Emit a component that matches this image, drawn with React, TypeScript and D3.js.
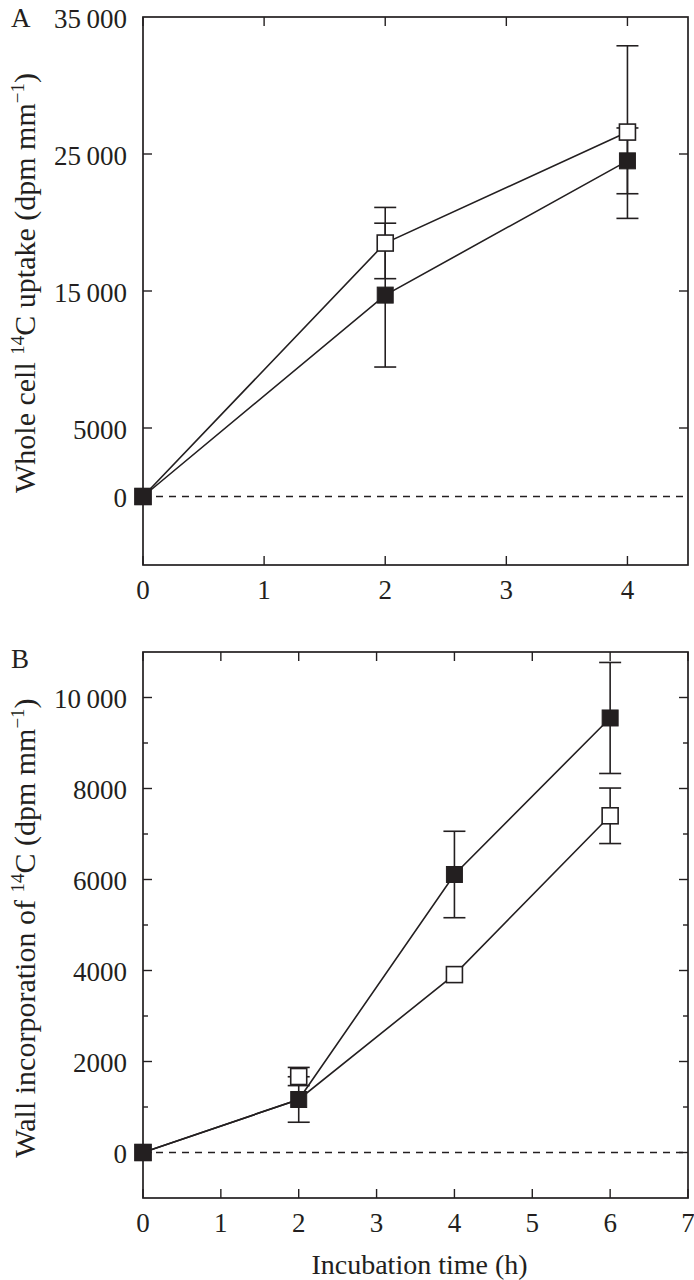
import React from 'react'
import * as d3 from 'd3'

// panel A: whole cell uptake
const timesA = [0, 2, 4]
const openA = [0, 18500, 26600]
const openLineA = [0, 18500, 26600]
const openErrA = [0, 2600, 6300]
const filledA = [0, 14700, 24500]
const filledErrA = [0, 5250, 2400]
const yTicksA = [5000, 15000, 25000]
const yLabelsA = [0, 5000, 15000, 25000, 35000]
const xTicksA = [0, 1, 2, 3, 4]

// panel B: wall incorporation (open marker at 2 h sits above where its line passes)
const timesB = [0, 2, 4, 6]
const openB = [0, 1670, 3910, 7400]
const openLineB = [0, 1165, 3910, 7400]
const openErrB = [0, 200, 0, 610]
const filledB = [0, 1165, 6110, 9550]
const filledErrB = [0, 500, 950, 1220]
const yMajorB = [0, 2000, 4000, 6000, 8000, 10000]
const yMinorB = [1000, 3000, 5000, 7000, 9000]
const xTicksB = [0, 1, 2, 3, 4, 5, 6, 7]

const INK = '#231f20'
const FONT = '"Liberation Serif", "Times New Roman", serif'

const fmt = (v: number) => {
  if (v >= 10000) {
    const s = String(v)
    return s.slice(0, s.length - 3) + '\u2009' + s.slice(-3)
  }
  return String(v)
}

type PanelProps = {
  letter: string
  letterY: number
  top: number
  bottom: number
  xDomain: [number, number]
  yDomain: [number, number]
  times: number[]
  open: number[]
  openLine: number[]
  openErr: number[]
  filled: number[]
  filledErr: number[]
  yMajor: number[]
  yMinor: number[]
  yLabels: number[]
  xTicks: number[]
  yTitle: React.ReactNode
  yTitleY: number
  xTitle?: string
}

const Panel = (p: PanelProps) => {
  const left = 143
  const right = 688
  const x = d3.scaleLinear().domain(p.xDomain).range([left, right])
  const y = d3.scaleLinear().domain(p.yDomain).range([p.bottom, p.top])
  const line = d3.line<number>()
    .x((_, i) => x(p.times[i]))
    .y(d => y(d))

  const cap = 11
  const sq = 16

  const errBars = (vals: number[], errs: number[], key: string) =>
    vals.map((v, i) => errs[i] > 0 ? (
      <g key={key + i} stroke={INK} strokeWidth={1.6}>
        <line x1={x(p.times[i])} x2={x(p.times[i])} y1={y(v + errs[i])} y2={y(v - errs[i])} />
        <line x1={x(p.times[i]) - cap} x2={x(p.times[i]) + cap} y1={y(v + errs[i])} y2={y(v + errs[i])} />
        <line x1={x(p.times[i]) - cap} x2={x(p.times[i]) + cap} y1={y(v - errs[i])} y2={y(v - errs[i])} />
      </g>
    ) : null)

  return (
    <g>
      <text x={11} y={p.letterY} fontSize={27} fontFamily={FONT} fill={INK}>{p.letter}</text>

      {/* zero line */}
      <line x1={x(0)} x2={right} y1={y(0)} y2={y(0)} stroke={INK} strokeWidth={1.4} strokeDasharray="7,6" />

      {/* ticks, inward on all sides */}
      {p.yMajor.map(t => (
        <g key={'ym' + t} stroke={INK} strokeWidth={1.4}>
          <line x1={left} x2={left + 9} y1={y(t)} y2={y(t)} />
          <line x1={right} x2={right - 9} y1={y(t)} y2={y(t)} />
        </g>
      ))}
      {p.yMinor.map(t => (
        <g key={'yn' + t} stroke={INK} strokeWidth={1.4}>
          <line x1={left} x2={left + 5} y1={y(t)} y2={y(t)} />
          <line x1={right} x2={right - 5} y1={y(t)} y2={y(t)} />
        </g>
      ))}
      {p.xTicks.map(t => (
        <g key={'xt' + t} stroke={INK} strokeWidth={1.4}>
          <line x1={x(t)} x2={x(t)} y1={p.bottom} y2={p.bottom - 9} />
          <line x1={x(t)} x2={x(t)} y1={p.top} y2={p.top + 9} />
        </g>
      ))}

      {/* tick labels */}
      {p.yLabels.map(t => (
        <text key={'yl' + t} x={127} y={y(t)} dy="0.4em" textAnchor="end" fontSize={27} fontFamily={FONT} fill={INK}>{fmt(t)}</text>
      ))}
      {p.xTicks.map(t => (
        <text key={'xl' + t} x={x(t)} y={p.bottom + 34} textAnchor="middle" fontSize={27} fontFamily={FONT} fill={INK}>{t}</text>
      ))}

      {/* frame */}
      <rect x={left} y={p.top} width={right - left} height={p.bottom - p.top} fill="none" stroke={INK} strokeWidth={1.7} />

      {/* series lines */}
      <path d={line(p.openLine) || ''} fill="none" stroke={INK} strokeWidth={1.6} />
      <path d={line(p.filled) || ''} fill="none" stroke={INK} strokeWidth={1.6} />

      {errBars(p.filled, p.filledErr, 'fe')}
      {errBars(p.open, p.openErr, 'oe')}

      {p.open.map((v, i) => (
        <rect key={'om' + i} x={x(p.times[i]) - sq / 2} y={y(v) - sq / 2} width={sq} height={sq} fill="#fff" stroke={INK} strokeWidth={1.6} />
      ))}
      {p.filled.map((v, i) => (
        <rect key={'fm' + i} x={x(p.times[i]) - sq / 2} y={y(v) - sq / 2} width={sq} height={sq} fill={INK} stroke={INK} strokeWidth={1} />
      ))}

      {/* axis titles */}
      <text transform={`translate(35,${p.yTitleY}) rotate(-90)`} textAnchor="middle" fontSize={30} fontFamily={FONT} fill={INK}>
        {p.yTitle}
      </text>
      {p.xTitle ? (
        <text x={(left + right) / 2 + 4} y={1274} textAnchor="middle" fontSize={28} fontFamily={FONT} fill={INK}>{p.xTitle}</text>
      ) : null}
    </g>
  )
}

export default function App() {
  return (
    <svg width={694} height={1280} style={{ position: 'absolute', left: 0, top: 0, background: '#fff' }}>
      <rect width={694} height={1280} fill="#fff" />
      <Panel
        letter="A"
        letterY={27}
        top={17}
        bottom={565}
        xDomain={[0, 4.5]}
        yDomain={[-5000, 35000]}
        times={timesA}
        open={openA}
        openLine={openLineA}
        openErr={openErrA}
        filled={filledA}
        filledErr={filledErrA}
        yMajor={yTicksA}
        yMinor={[]}
        yLabels={yLabelsA}
        xTicks={xTicksA}
        yTitleY={283}
        yTitle={<>Whole cell <tspan dy={-11} fontSize={19}>14</tspan><tspan dy={11}>C uptake (dpm mm</tspan><tspan dy={-11} fontSize={19}>−1</tspan><tspan dy={11}>)</tspan></>}
      />
      <Panel
        letter="B"
        letterY={668}
        top={652}
        bottom={1198}
        xDomain={[0, 7]}
        yDomain={[-1000, 11000]}
        times={timesB}
        open={openB}
        openLine={openLineB}
        openErr={openErrB}
        filled={filledB}
        filledErr={filledErrB}
        yMajor={yMajorB}
        yMinor={yMinorB}
        yLabels={yMajorB}
        xTicks={xTicksB}
        yTitleY={928}
        yTitle={<>Wall incorporation of <tspan dy={-11} fontSize={19}>14</tspan><tspan dy={11}>C (dpm mm</tspan><tspan dy={-11} fontSize={19}>−1</tspan><tspan dy={11}>)</tspan></>}
        xTitle="Incubation time (h)"
      />
    </svg>
  )
}
